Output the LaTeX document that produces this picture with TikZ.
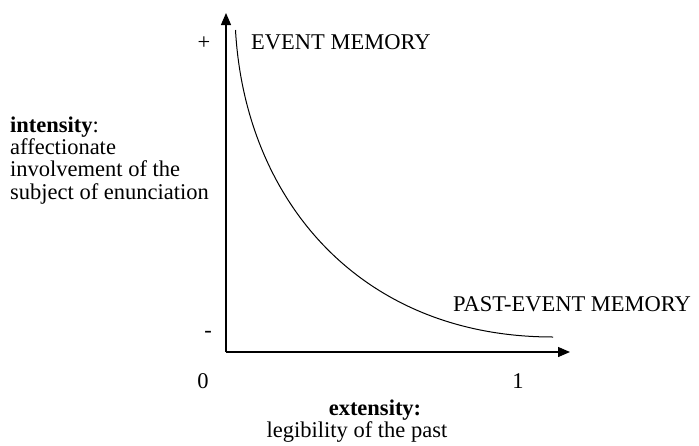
\documentclass[tikz,border=0pt]{standalone}
\usepackage{fontspec}
\setmainfont{Liberation Serif}
\usetikzlibrary{arrows.meta}
\begin{document}
\begin{tikzpicture}[x=1pt,y=-1pt,
  lbl/.style={inner sep=0pt,font=\fontsize{22.5}{22.5}\selectfont},
  axisline/.style={line width=1.3pt,-{Triangle[length=12pt,width=10pt]}},
  curveline/.style={line width=1pt}]
\useasboundingbox (0,0) rectangle (699,445);
% axes
\coordinate (O) at (226,352);
\coordinate (ytip) at (226,13);
\coordinate (xtip) at (570,352);
\draw[axisline] (O) -- (ytip);
\draw[axisline] (O) -- (xtip);
% curve
\coordinate (cs) at (235.5,30);
\coordinate (ce) at (553,337);
\draw[curveline] (cs) .. controls (245,200) and (360,337) .. (ce);
% labels
\node[lbl,anchor=base] (plus) at (204,49) {+};
\node[lbl,anchor=base] (minus) at (208,337) {-};
\node[lbl,anchor=base] (zero) at (203,388) {0};
\node[lbl,anchor=base] (one) at (518,388) {1};
\node[lbl,anchor=base west] (ev) at (251,49) {EVENT MEMORY};
\node[lbl,anchor=base west] (pev) at (453,311) {PAST-EVENT MEMORY};
\node[lbl,anchor=base] (ext) at (375,415) {\textbf{extensity:}};
\node[lbl,anchor=base] (leg) at (357,437) {legibility of the past};
\node[lbl,anchor=base west] (int1) at (10,132) {\textbf{intensity}:};
\node[lbl,anchor=base west] (int2) at (10,154) {affectionate};
\node[lbl,anchor=base west] (int3) at (10,176.5) {involvement of the};
\node[lbl,anchor=base west] (int4) at (10,199) {subject of enunciation};
\end{tikzpicture}
\end{document}
